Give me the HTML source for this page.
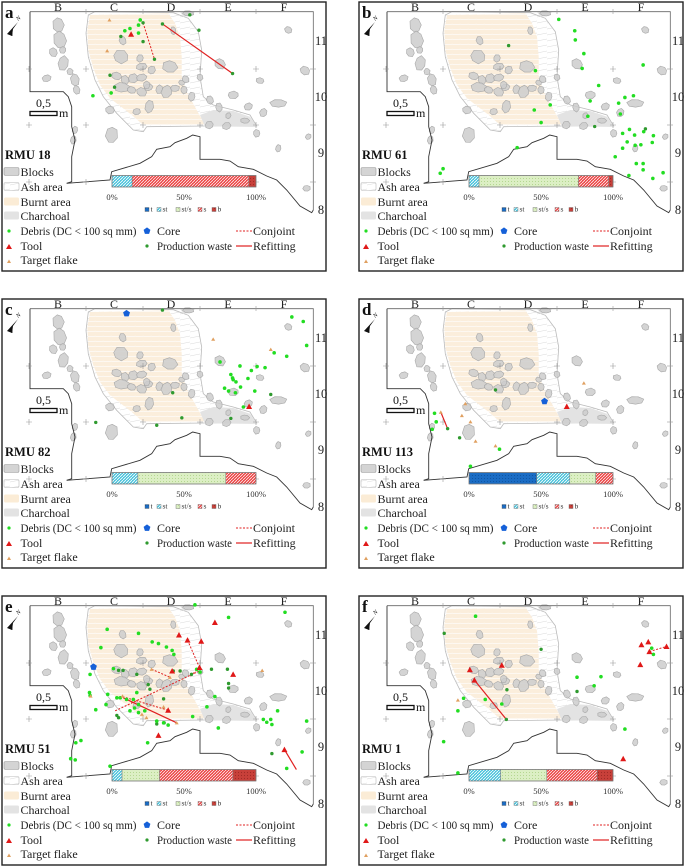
<!DOCTYPE html>
<html><head><meta charset="utf-8"><style>
html,body{margin:0;padding:0;background:#fff;}
svg{display:block;}
text{font-family:"Liberation Serif","Times New Roman",serif;}
</style></head><body>
<svg id="fig" width="685" height="866" viewBox="0 0 685 866" xmlns="http://www.w3.org/2000/svg" font-family="Liberation Serif, serif">
<defs>
<pattern id="pBurnt" width="8" height="5" patternUnits="userSpaceOnUse"><rect width="8" height="5" fill="#fbeedc"/><line x1="0" y1="4.6" x2="8" y2="4.2" stroke="#fff" stroke-width="0.6"/></pattern>
<pattern id="pAsh" width="10" height="6" patternUnits="userSpaceOnUse"><rect width="10" height="6" fill="#fff"/><line x1="0" y1="5" x2="10" y2="3" stroke="#dadada" stroke-width="0.5"/></pattern>
<pattern id="pT" width="3" height="3" patternUnits="userSpaceOnUse"><rect width="3" height="3" fill="#1a6cc4"/><circle cx="1.5" cy="1.5" r="0.5" fill="#0b4f9a"/></pattern>
<pattern id="pSt" width="3" height="3" patternUnits="userSpaceOnUse"><rect width="3" height="3" fill="#4cc3dc"/><line x1="0" y1="3" x2="3" y2="0" stroke="#fff" stroke-width="0.8"/></pattern>
<pattern id="pSts" width="3" height="3" patternUnits="userSpaceOnUse"><rect width="3" height="3" fill="#dcefc4"/><circle cx="1.5" cy="1.5" r="0.5" fill="#a8d080"/></pattern>
<pattern id="pS" width="3" height="3" patternUnits="userSpaceOnUse"><rect width="3" height="3" fill="#ec4a4a"/><line x1="0" y1="3" x2="3" y2="0" stroke="#fff" stroke-width="0.7"/></pattern>
<pattern id="pB" width="3" height="3" patternUnits="userSpaceOnUse"><rect width="3" height="3" fill="#c8403a"/><circle cx="1.5" cy="1.5" r="0.6" fill="#a02a26"/></pattern>
</defs>
</svg>
<script>
// ---- bar chart data (% of flaking categories) ----
const barCats = ["t","st","st/s","s","b"];
const barA = [0,14,0,81,5];
const barB = [0,7,69,21,3];
const barC = [0,18,61,21,0];
const barD = [47,23,18,12,0];
const barE = [0,7,26,51,16];
const barF = [0,22,32,35,11];
const barTicks = ["0%","50%","100%"];
const barTickVals = [0,50,100];

// ---- map point data [easting m, northing m] ----
const debrisA = [[2.46,11.35],[2.19,11.16],[2.28,11.20],[2.43,11.26],[2.43,11.12],[1.95,10.07],[1.63,10.02]];
const wasteA = [[2.51,11.30],[2.12,11.06],[2.51,10.97],[2.71,10.66],[2.85,11.28],[3.33,11.44],[3.49,11.17],[4.08,10.41],[1.93,10.38],[2.01,10.17]];
const toolA = [[2.30,11.10]];
const targetA = [[1.92,11.35],[1.88,10.81]];
const coreA = [];
const conjA = [[2.51,11.30,2.71,10.66]];
const refitA = [[2.85,11.28,4.08,10.41]];

const debrisB = [[3.54,11.36],[3.82,11.16],[3.83,11.00],[3.98,10.76],[3.95,10.50],[3.13,10.46],[4.24,10.20],[4.70,9.99],[4.85,10.02],[4.59,9.89],[4.09,9.93],[3.39,9.86],[3.11,9.77],[4.05,9.66],[4.62,9.70],[3.23,9.55],[5.02,10.56],[4.78,9.43],[4.66,9.36],[4.87,9.33],[5.03,9.39],[5.20,9.32],[4.74,9.21],[4.66,9.10],[4.88,9.15],[4.98,9.16],[5.18,9.20],[4.53,8.95],[4.90,8.83],[5.02,8.83],[5.02,8.72],[5.37,8.67],[5.19,8.57],[4.77,8.62],[2.81,9.11],[1.51,8.74],[1.46,8.66]];
const wasteB = [[4.17,9.48],[2.66,10.90],[5.06,9.44]];
const toolB = [], targetB = [], coreB = [], conjB = [], refitB = [];

const debrisC = [[5.12,11.35],[5.32,11.27],[5.38,10.85],[5.03,10.66],[4.81,10.72],[3.86,10.56],[4.21,10.49],[4.41,10.41],[4.51,10.48],[4.65,10.46],[4.05,10.34],[4.08,10.28],[4.09,10.25],[4.14,10.21],[4.35,10.27],[3.94,10.10],[4.01,10.05],[4.22,10.12],[4.13,10.02],[4.47,10.05],[4.27,9.77]];
const wasteC = [[2.85,11.47],[3.03,10.02],[4.75,9.99],[4.05,9.57],[3.19,9.58],[2.75,9.45],[1.68,9.50]];
const toolC = [[4.37,9.78]];
const targetC = [[3.74,10.96],[4.75,10.78]];
const coreC = [[2.22,11.41]];
const conjC = [], refitC = [];

const debrisD = [[1.36,9.66],[1.39,9.51],[1.32,9.38],[2.50,9.03],[1.99,8.73]];
const wasteD = [[2.43,10.07],[1.59,9.39],[1.80,9.23]];
const toolD = [[3.68,9.78]];
const targetD = [[3.98,10.19],[1.90,9.83],[1.84,9.62],[1.99,9.51],[2.08,9.17],[2.43,9.09],[1.47,9.68]];
const coreD = [[3.29,9.87]];
const conjD = [];
const refitD = [[1.47,9.68,1.59,9.39]];

const debrisE = [[1.88,11.08],[1.77,10.76],[2.43,11.01],[2.67,10.86],[2.78,10.83],[2.92,10.77],[3.02,10.71],[3.05,10.64],[1.99,10.39],[1.58,10.29],[1.57,9.97],[1.58,9.92],[1.68,9.67],[1.86,9.76],[1.89,9.94],[2.05,9.88],[2.11,9.88],[2.22,9.85],[2.34,9.85],[2.40,9.97],[2.43,9.76],[2.36,9.70],[2.28,9.65],[2.43,9.62],[2.54,9.65],[2.75,9.47],[2.87,9.44],[2.95,9.40],[3.38,9.55],[3.63,9.72],[3.77,9.90],[4.01,11.29],[5.00,11.38],[3.83,9.35],[4.62,9.50],[4.68,9.45],[4.75,9.50],[4.77,9.41],[4.87,9.65],[5.38,9.47],[5.30,8.93],[5.03,8.64],[2.59,9.09],[1.33,9.09],[1.42,9.13],[1.24,8.81],[1.32,8.79],[1.93,8.68],[3.42,11.51],[3.51,10.33],[3.45,10.38]];
const wasteE = [[2.08,10.36],[2.16,10.36],[2.40,10.29],[2.60,10.11],[2.63,10.03],[2.87,9.86],[3.04,10.35],[3.16,10.35],[3.36,10.29],[3.71,10.38],[3.99,10.38],[4.01,10.05],[4.01,10.13],[2.05,9.57],[2.08,9.53],[2.75,9.42],[2.88,9.44],[4.77,8.90]];
const toolE = [[3.77,11.20],[3.14,10.98],[3.29,10.89],[3.53,10.87],[3.02,10.35],[3.50,10.41],[4.09,10.29],[2.95,9.66],[2.78,9.22],[4.99,8.97]];
const targetE = [[2.66,10.38],[2.98,10.24],[1.59,9.91],[2.15,9.91],[2.57,9.53],[3.10,9.44],[4.60,10.36],[2.87,9.72],[2.49,9.59]];
const coreE = [[1.64,10.42]];
const conjE = [[3.29,10.89,3.50,10.41],[3.50,10.41,3.33,10.25],[2.66,10.38,2.98,10.24],[2.02,9.65,3.50,10.35],[2.15,9.90,2.95,9.66]];
const refitE = [[2.16,9.88,3.10,9.44],[4.99,8.97,5.20,8.62]];

const debrisF = [[2.08,11.31],[1.87,9.87],[1.77,9.65],[2.25,9.85],[2.54,9.77],[3.86,10.24],[4.28,10.25],[4.16,10.09],[4.70,9.33],[1.52,9.11],[1.77,8.56],[5.17,10.75],[5.20,10.64]];
const wasteF = [[1.53,11.01],[3.23,10.73],[2.63,10.02],[3.86,9.99],[2.62,9.50]];
const toolF = [[1.98,10.37],[2.06,10.19],[2.54,10.45],[4.99,10.81],[5.11,10.86],[5.13,10.69],[5.43,10.78],[4.97,10.46],[4.67,8.81]];
const targetF = [[1.77,9.84]];
const coreF = [];
const conjF = [[5.13,10.69,5.43,10.78]];
const refitF = [[2.06,10.19,2.62,9.50]];

const NS = "http://www.w3.org/2000/svg";
const svg = document.getElementById("fig");
const SERIF = "Liberation Serif, Times New Roman, serif";
function mk(tag, attrs, parent){ const e=document.createElementNS(NS,tag); if(tag==="text") e.setAttribute("font-family",SERIF); for(const k in attrs) e.setAttribute(k,attrs[k]); parent.appendChild(e); return e; }
function mx(E){ return E*57; }
function my(N){ return (11.7-N)*57; }
function bx(p){ return 112 + p*1.44; }
function Z(arr){ return arr.map(p=>(p[0]/3).toFixed(1)+","+(p[1]/3).toFixed(1)).join(" "); }

const coast = [[90,35],[90,275],[190,275],[205,290],[215,320],[215,380],[225,420],[215,470],[215,545],[200,550]];
const coast2 = [[200,550],[330,540],[335,515],[420,490],[455,470],[470,448],[510,440],[525,428],[560,415],[578,405],[600,410],[600,478],[660,478],[690,483],[715,500],[760,508],[800,528],[830,540],[860,570],[900,618],[935,638],[940,630]];
const frameTR = [[90,35],[940,35],[940,630]];
const ash = [[265,45],[285,35],[520,38],[565,55],[595,95],[605,150],[600,230],[610,290],[640,315],[700,330],[750,345],[770,378],[615,378],[440,380],[430,395],[400,390],[350,340],[310,290],[285,240],[265,170],[258,100]];
const burnt = [[270,45],[505,40],[525,70],[540,110],[545,170],[545,230],[560,275],[590,330],[615,375],[430,375],[395,345],[330,295],[300,255],[280,205],[265,150],[262,90]];
const charc1 = [[600,345],[640,330],[700,333],[750,350],[770,378],[615,380]];
const charc2 = [[540,35],[585,35],[575,48],[550,50]];
const blocks = [[175,75,15,22],[180,120,18,25],[160,157,12,12],[188,150,10,9],[190,190,15,20],[140,235,12,10],[210,215,8,10],[225,240,12,18],[230,270,10,12],[330,330,14,10],[225,390,8,10],[220,420,8,12],[335,405,16,24],[520,92,7,12],[368,122,10,12],[363,170,22,18],[420,175,10,10],[425,200,15,10],[455,210,10,12],[510,200,20,18],[350,228,14,11],[375,240,12,12],[400,235,15,12],[425,233,15,10],[445,262,12,10],[365,262,20,15],[395,270,12,10],[425,276,15,12],[440,255,10,10],[478,268,10,12],[500,275,15,18],[525,265,12,10],[545,248,8,8],[557,238,10,10],[552,270,10,10],[575,290,10,12],[448,320,12,18],[410,335,10,10],[600,232,8,10],[630,300,10,12],[657,322,10,12],[628,375,12,10],[680,378,12,10],[685,347,7,9],[735,362,12,8],[660,192,15,15],[780,242,12,8],[700,285,16,10],[745,320,12,10],[790,338,10,12],[835,310,22,12],[865,90,10,10],[915,212,14,12],[770,400,10,10],[835,445,8,10],[925,410,8,8],[920,565,10,9],[565,40,15,8]];

function polyStr(pts){ return Z(pts); }

function drawPanel(ox, oy, letter, rmu, bar, debris, waste, tool, target, core, conj, refit){
  const g = mk("g",{transform:`translate(${ox},${oy})`},svg);
  
  
  mk("rect",{x:2,y:2,width:324,height:269,fill:"#fff",stroke:"#222","stroke-width":1.4},g);
  const ashEl = mk("polygon",{points:polyStr(ash),fill:"url(#pAsh)",stroke:"#bbb","stroke-width":0.8},g);
  
  
  const bEl = mk("polygon",{points:polyStr(burnt),fill:"url(#pBurnt)",stroke:"none"},g);
  
  
  const c1 = mk("polygon",{points:polyStr(charc1),fill:"#e3e3e3",stroke:"none"},g);
  
  
  mk("polygon",{points:polyStr(charc2),fill:"#e3e3e3",stroke:"none"},g);
  blocks.forEach((b,i)=>{
    const cx=b[0]/3, cy=b[1]/3, rx=b[2]/3*1.2, ry=b[3]/3*1.2;
    const pts=[];
    for(let k=0;k<7;k++){ const a=k/7*Math.PI*2+i; const f=0.9+0.1*Math.cos(k*1.7+i); pts.push((cx+rx*f*Math.cos(a)).toFixed(1)+","+(cy+ry*f*Math.sin(a)).toFixed(1)); }
    const el = mk("polygon",{points:pts.join(" "),fill:"#cdcdcd","fill-opacity":0.85,stroke:"#a8a8a8","stroke-width":0.6,"stroke-linejoin":"round"},g);
    
    
  });
  mk("polyline",{points:polyStr(frameTR),fill:"none",stroke:"#666","stroke-width":0.8},g);
  const cl = mk("polyline",{points:polyStr(coast),fill:"none",stroke:"#333","stroke-width":0.9},g);
  
  
  mk("polyline",{points:polyStr(coast2),fill:"none",stroke:"#333","stroke-width":0.9},g);
  [29,86,143,200,256].forEach(x=>[69,125,182].forEach(y=>{
    mk("path",{d:`M${x-3},${y}H${x+3}M${x},${y-3}V${y+3}`,stroke:"#999","stroke-width":0.6},g);
  }));
  [86,143,200,256].forEach(x=>mk("path",{d:`M${x},${9}V${14}`,stroke:"#999","stroke-width":0.6},g));
  [69,125,182].forEach(y=>mk("path",{d:`M${310},${y}H${316}`,stroke:"#999","stroke-width":0.6},g));
  [["B",58],["C",114],["D",171],["E",228],["F",284]].forEach(c=>{
    const t=mk("text",{x:c[1],y:11,"font-size":12,"text-anchor":"middle",fill:"#222"},g); t.textContent=c[0];
    
    
  });
  [["11",45],["10",101],["9",157],["8",214]].forEach(r=>{
    const t=mk("text",{x:321,y:r[1],"font-size":12.5,"text-anchor":"middle",fill:"#222"},g); t.textContent=r[0];
    
    
  });
  const lt = mk("text",{x:5,y:18,"font-size":17,"font-weight":"bold",fill:"#111"},g); lt.textContent=letter;
  lt.setAttribute("font-family","Liberation Sans, sans-serif");
  
  
  const na = mk("polygon",{points:"7,34 18,22 13,29 12,36",fill:"#111"},g);
  
  
  mk("line",{x1:12,y1:29,x2:12,y2:36,stroke:"#111","stroke-width":0.8},g);
  const nt = mk("text",{x:18,y:21,"font-size":6,"font-style":"italic",fill:"#111",transform:"rotate(-40 18 21)"},g); nt.textContent="N";
  const sb=mk("text",{x:36,y:107,"font-size":12,fill:"#111"},g); sb.textContent="0,5";
  
  
  const sr=mk("rect",{x:30,y:111.5,width:27,height:4,fill:"#fff",stroke:"#111","stroke-width":1.3},g);
  
  
  const sm=mk("text",{x:59,y:117,"font-size":12,fill:"#111"},g); sm.textContent="m";
  conj.forEach(c=>{ const l=mk("line",{x1:mx(c[0]),y1:my(c[1]),x2:mx(c[2]),y2:my(c[3]),stroke:"#e02020","stroke-width":1,"stroke-dasharray":"2,1.5"},g);
    
     });
  refit.forEach(c=>{ const l=mk("line",{x1:mx(c[0]),y1:my(c[1]),x2:mx(c[2]),y2:my(c[3]),stroke:"#e02020","stroke-width":1.2},g);
    
     });
  waste.forEach(p=>{ const c=mk("circle",{cx:mx(p[0]),cy:my(p[1]),r:1.7,fill:"#2f9a2f"},g);
    
     });
  debris.forEach(p=>{ const c=mk("circle",{cx:mx(p[0]),cy:my(p[1]),r:1.8,fill:"#22dd22"},g);
    
     });
  target.forEach(p=>{ const x=mx(p[0]),y=my(p[1]); const c=mk("polygon",{points:`${x-2},${y+1.6} ${x+2},${y+1.6} ${x},${y-1.8}`,fill:"#e0a060"},g);
    
     });
  tool.forEach(p=>{ const x=mx(p[0]),y=my(p[1]); const c=mk("polygon",{points:`${x-3},${y+2.5} ${x+3},${y+2.5} ${x},${y-3}`,fill:"#e01818"},g);
    
     });
  core.forEach(p=>{ const x=mx(p[0]),y=my(p[1]); const pts=[]; for(let k=0;k<5;k++){const a=-Math.PI/2+k*2*Math.PI/5; pts.push((x+3.6*Math.cos(a)).toFixed(1)+","+(y+3.6*Math.sin(a)).toFixed(1));}
    const c=mk("polygon",{points:pts.join(" "),fill:"#1560d8"},g);
    
     });
  const fills=["url(#pT)","url(#pSt)","url(#pSts)","url(#pS)","url(#pB)"];
  let acc=0;
  bar.forEach((v,i)=>{ if(v>0){ const r=mk("rect",{x:bx(acc),y:175.5,width:bx(acc+v)-bx(acc),height:11.5,fill:fills[i],stroke:"#777","stroke-width":0.5},g);
      
       }
    acc+=v; });
  mk("rect",{x:bx(0),y:175.5,width:bx(100)-bx(0),height:11.5,fill:"none",stroke:"#777","stroke-width":0.6},g);
  barTicks.forEach((t,i)=>{ const e=mk("text",{x:bx(barTickVals[i]),y:200,"font-size":8.5,"text-anchor":"middle",fill:"#333"},g); e.textContent=t;
    
     });
  const lgx=[145,157,176,198,212];
  barCats.forEach((c,i)=>{ mk("rect",{x:lgx[i],y:207.5,width:4,height:4,fill:fills[i],stroke:"#666","stroke-width":0.4},g);
    const e=mk("text",{x:lgx[i]+5.5,y:211.5,"font-size":7.5,fill:"#333"},g); e.textContent=c;
    
     });
  const rt=mk("text",{x:5,y:159,"font-size":12.5,"font-weight":"bold",fill:"#111"},g); rt.textContent=rmu;
  
  
  const sw=[["Blocks","#d4d4d4","#999",176],["Ash area","url(#pAsh)","#bbb",191],["Burnt area","#fbecd6","none",206],["Charchoal","#e3e3e3","none",220]];
  sw.forEach(s=>{ mk("rect",{x:4,y:s[3]-8.5,width:15,height:8,fill:s[1],stroke:s[2],"stroke-width":0.6,rx:1.5},g);
    const e=mk("text",{x:20.5,y:s[3],"font-size":12,fill:"#222"},g); e.textContent=s[0];
    
     });
  mk("circle",{cx:9,cy:231,r:1.6,fill:"#22dd22"},g);
  mk("polygon",{points:"6,249 12,249 9,244",fill:"#e01818"},g);
  mk("polygon",{points:"7,263 11,263 9,259.5",fill:"#e0a060"},g);
  [["Debris (DC < 100 sq mm)",20.5,235,116],["Tool",20.5,250,0],["Target flake",20.5,264,0],["Core",157,235,0],["Production waste",157,250,75],["Conjoint",253,235,0],["Refitting",253,250,0]].forEach(s=>{
    const e=mk("text",{x:s[1],y:s[2],"font-size":12,fill:"#222"},g); e.textContent=s[0];
    if(s[3]) { e.setAttribute("textLength",s[3]); e.setAttribute("lengthAdjust","spacingAndGlyphs"); }
    
     });
  const pts=[]; for(let k=0;k<5;k++){const a=-Math.PI/2+k*2*Math.PI/5; pts.push((147+3.6*Math.cos(a)).toFixed(1)+","+(231+3.6*Math.sin(a)).toFixed(1));}
  mk("polygon",{points:pts.join(" "),fill:"#1560d8"},g);
  mk("circle",{cx:147,cy:246,r:1.6,fill:"#2f9a2f"},g);
  mk("line",{x1:236,y1:231,x2:252,y2:231,stroke:"#e02020","stroke-width":1,"stroke-dasharray":"2,1.5"},g);
  mk("line",{x1:236,y1:246,x2:252,y2:246,stroke:"#e02020","stroke-width":1.2},g);
}

drawPanel(0,0,"a","RMU 18",barA,debrisA,wasteA,toolA,targetA,coreA,conjA,refitA);
drawPanel(357,0,"b","RMU 61",barB,debrisB,wasteB,toolB,targetB,coreB,conjB,refitB);
drawPanel(0,297,"c","RMU 82",barC,debrisC,wasteC,toolC,targetC,coreC,conjC,refitC);
drawPanel(357,297,"d","RMU 113",barD,debrisD,wasteD,toolD,targetD,coreD,conjD,refitD);
drawPanel(0,594,"e","RMU 51",barE,debrisE,wasteE,toolE,targetE,coreE,conjE,refitE);
drawPanel(357,594,"f","RMU 1",barF,debrisF,wasteF,toolF,targetF,coreF,conjF,refitF);
</script>
</body></html>
